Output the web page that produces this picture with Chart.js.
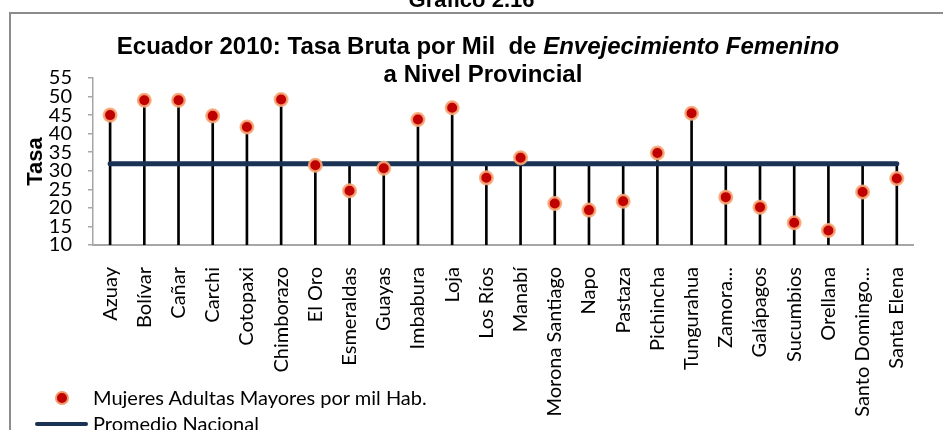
<!DOCTYPE html>
<html>
<head>
<meta charset="utf-8">
<script src="https://cdn.jsdelivr.net/npm/chart.js@4"></script>
<style>
  html, body { margin: 0; padding: 0; background: #fff; overflow: hidden; }
  #wrap { position: relative; width: 943px; height: 430px; overflow: hidden; }
  #frame { position: absolute; left: 9px; top: 12px; width: 1000px; height: 500px; border: 2px solid #8c8c8c; }
  canvas { position: absolute; left: 0; top: 0; }
  .t { position: absolute; font-family: "Liberation Sans", Arial, sans-serif; font-weight: bold; color: #000; white-space: nowrap; }
  #grafico { left: 0; width: 943px; text-align: center; top: -13px; font-size: 22px; }
  #titulo1 { left: 0; width: 956px; text-align: center; top: 32px; font-size: 24px; }
  #titulo2 { left: 0; width: 966px; text-align: center; top: 60px; font-size: 24px; }
  .leg { position: absolute; font-family: Lato, "Open Sans", sans-serif; font-size: 20px; color: #000; white-space: nowrap; }
  #punto { position: absolute; left: 55px; top: 391px; width: 10px; height: 10px; border-radius: 50%; background: #c00000; border: 2.5px solid rgba(247, 170, 120, 0.9); }
  #linea { position: absolute; left: 35px; top: 422px; width: 53px; height: 4px; background: #1a3253; border-radius: 2px; }
</style>
</head>
<body>
<div id="wrap">
  <div id="frame"></div>
  <canvas id="grafico216" width="943" height="430"></canvas>
  <div class="t" id="grafico">Gráfico 2.16</div>
  <div class="t" id="titulo1">Ecuador 2010: Tasa Bruta por Mil&nbsp; de <i>Envejecimiento Femenino</i></div>
  <div class="t" id="titulo2">a Nivel Provincial</div>
  <div id="punto"></div>
  <div class="leg" style="left: 93px; top: 385px;">Mujeres Adultas Mayores por mil Hab.</div>
  <div id="linea"></div>
  <div class="leg" style="left: 93px; top: 411px;">Promedio Nacional</div>
</div>
<script>
const categorias = ['Azuay', 'Bolívar', 'Cañar', 'Carchi', 'Cotopaxi', 'Chimborazo', 'El Oro', 'Esmeraldas',
  'Guayas', 'Imbabura', 'Loja', 'Los Ríos', 'Manabí', 'Morona Santiago', 'Napo', 'Pastaza', 'Pichincha',
  'Tungurahua', 'Zamora...', 'Galápagos', 'Sucumbios', 'Orellana', 'Santo Domingo...', 'Santa Elena'];

// tasa por mil de mujeres adultas mayores
const tasas = [45.0, 49.0, 49.0, 44.8, 41.8, 49.2, 31.5, 24.6, 30.7, 43.8, 47.0, 28.1,
  33.5, 21.2, 19.4, 21.8, 34.8, 45.5, 22.9, 20.2, 16.0, 13.9, 24.3, 27.9];

const promedioNacional = 31.9;

const ejeMin = 10;
const ejeMax = 55;
const ejePaso = 5;

const fuente = 'Lato, "Open Sans", sans-serif';

const ctx = document.getElementById('grafico216').getContext('2d');
new Chart(ctx, {
  data: {
    labels: categorias,
    datasets: [
      {
        type: 'line',
        label: 'Mujeres Adultas Mayores por mil Hab.',
        data: tasas,
        showLine: false,
        pointRadius: 6.25,
        pointBorderWidth: 2.5,
        pointBackgroundColor: '#c00000',
        pointBorderColor: 'rgba(247, 170, 120, 0.9)',
        order: 0,
      },
      {
        type: 'line',
        label: 'Promedio Nacional',
        data: categorias.map(() => promedioNacional),
        borderColor: '#1a3253',
        borderWidth: 5,
        borderCapStyle: 'round',
        pointRadius: 0,
        order: 1,
      },
      {
        // lineas de caida hasta el eje
        type: 'bar',
        label: 'caida',
        data: tasas.map(v => [ejeMin, Math.max(v, promedioNacional)]),
        backgroundColor: '#000',
        barThickness: 2,
        order: 2,
      },
    ],
  },
  options: {
    responsive: false,
    animation: false,
    events: [],
    layout: { padding: { left: 0, top: 78, right: 8, bottom: 0 } },
    plugins: {
      legend: { display: false },
      tooltip: { enabled: false },
    },
    scales: {
      x: {
        grid: { display: false, drawTicks: false },
        border: { display: true, color: '#a6a6a6', width: 2 },
        ticks: {
          autoSkip: false,
          maxRotation: 90,
          minRotation: 90,
          padding: 22,
          color: '#000',
          font: { family: fuente, size: 20 },
        },
        afterFit: (scale) => { scale.height = 185; },
      },
      y: {
        min: ejeMin,
        max: ejeMax,
        grid: { display: true, drawOnChartArea: false, drawTicks: true, tickLength: 5, color: '#a6a6a6', lineWidth: 1.5 },
        border: { display: true, color: '#a6a6a6', width: 1.5 },
        ticks: {
          stepSize: ejePaso,
          autoSkip: false,
          padding: 16,
          color: '#000',
          font: { family: fuente, size: 20, lineHeight: 1 },
        },
        title: {
          display: true,
          text: 'Tasa',
          color: '#000',
          font: { family: '"Liberation Sans", Arial, sans-serif', size: 22, weight: 'bold' },
          padding: { top: 23, bottom: 0 },
        },
        afterFit: (scale) => { scale.width = 93; },
      },
    },
  },
});
</script>
</body>
</html>
